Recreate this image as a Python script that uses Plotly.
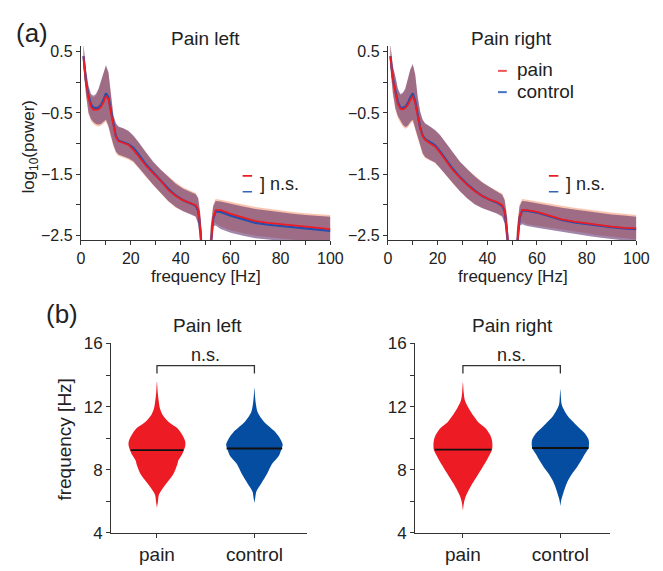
import plotly.graph_objects as go

FONT = "Liberation Sans, Arial, sans-serif"
RED = "#ED1C24"
BLUE = "#054DA0"
LINE_BLUE = "#2150B0"
AXC = "#333333"

# ---------------- data: spectra ----------------
freq = [1, 2, 3, 4, 5, 6, 7, 8, 9, 10, 11, 12, 13, 14, 15, 17, 19, 21, 23, 26, 29, 32, 35, 38, 41, 44,
        46, 47, 48, 49, 50, 51, 52, 53, 54, 56, 60, 65, 70, 75, 80, 85, 90, 95, 100]

# Pain left
L_pain_mean = [0.42, 0.0, -0.25, -0.40, -0.45, -0.45, -0.44, -0.40, -0.33, -0.22, -0.27, -0.50, -0.73, -0.89, -0.96,
               -0.99, -1.02, -1.10, -1.20, -1.36, -1.49, -1.61, -1.76, -1.86, -1.93, -1.98, -2.01, -2.08, -2.45,
               -3.2, -3.5, -3.2, -2.65, -2.22, -2.09, -2.09, -2.15, -2.21, -2.27, -2.30, -2.32, -2.34, -2.36, -2.38, -2.40]
L_ctrl_mean = [0.43, 0.02, -0.22, -0.36, -0.41, -0.42, -0.41, -0.37, -0.29, -0.18, -0.24, -0.47, -0.71, -0.88, -0.95,
               -0.98, -1.01, -1.07, -1.17, -1.34, -1.47, -1.60, -1.74, -1.85, -1.93, -1.98, -2.02, -2.10, -2.47,
               -3.2, -3.5, -3.2, -2.67, -2.24, -2.11, -2.12, -2.18, -2.24, -2.30, -2.33, -2.35, -2.37, -2.39, -2.41, -2.43]
L_pain_up = [0.62, 0.18, -0.08, -0.22, -0.25, -0.22, -0.13, 0.0, 0.14, 0.27, 0.16, -0.25, -0.55, -0.68, -0.73,
             -0.76, -0.80, -0.88, -0.98, -1.15, -1.31, -1.43, -1.54, -1.64, -1.72, -1.77, -1.81, -1.88, -2.2,
             -3.0, -3.3, -3.0, -2.35, -2.0, -1.91, -1.92, -1.96, -2.00, -2.04, -2.07, -2.10, -2.12, -2.14, -2.16, -2.17]
L_pain_lo = [0.22, -0.22, -0.52, -0.63, -0.68, -0.71, -0.72, -0.71, -0.68, -0.64, -0.74, -0.90, -1.05, -1.16, -1.20,
             -1.23, -1.26, -1.31, -1.40, -1.55, -1.69, -1.82, -1.95, -2.05, -2.11, -2.15, -2.19, -2.30, -2.7,
             -3.4, -3.7, -3.4, -2.9, -2.3, -2.30, -2.36, -2.42, -2.47, -2.51, -2.54, -2.56, -2.58, -2.60, -2.62, -2.64]
L_ctrl_up = [0.63, 0.21, -0.05, -0.19, -0.22, -0.19, -0.11, 0.01, 0.15, 0.28, 0.17, -0.24, -0.54, -0.67, -0.72,
             -0.75, -0.79, -0.87, -0.97, -1.14, -1.30, -1.43, -1.55, -1.66, -1.74, -1.79, -1.83, -1.90, -2.22,
             -3.0, -3.3, -3.0, -2.38, -2.03, -1.94, -1.95, -1.99, -2.03, -2.07, -2.10, -2.13, -2.15, -2.17, -2.19, -2.20]
L_ctrl_lo = [0.25, -0.19, -0.49, -0.60, -0.65, -0.68, -0.69, -0.68, -0.65, -0.61, -0.71, -0.87, -1.02, -1.13, -1.18,
             -1.21, -1.24, -1.29, -1.38, -1.53, -1.68, -1.81, -1.94, -2.04, -2.11, -2.16, -2.20, -2.32, -2.72,
             -3.4, -3.7, -3.4, -2.95, -2.35, -2.34, -2.40, -2.46, -2.51, -2.55, -2.58, -2.60, -2.62, -2.64, -2.66, -2.68]

# Pain right
R_pain_mean = [0.42, 0.05, -0.16, -0.35, -0.43, -0.44, -0.42, -0.37, -0.29, -0.22, -0.34, -0.58, -0.75, -0.88, -0.94,
               -1.00, -1.05, -1.15, -1.26, -1.43, -1.56, -1.68, -1.78, -1.86, -1.92, -1.96, -2.01, -2.10, -2.45,
               -3.2, -3.5, -3.2, -2.65, -2.20, -2.09, -2.09, -2.12, -2.18, -2.24, -2.28, -2.31, -2.34, -2.36, -2.38, -2.39]
R_ctrl_mean = [0.43, 0.07, -0.13, -0.32, -0.41, -0.42, -0.40, -0.34, -0.25, -0.18, -0.31, -0.56, -0.74, -0.87, -0.93,
               -0.98, -1.03, -1.13, -1.24, -1.41, -1.55, -1.67, -1.77, -1.86, -1.92, -1.97, -2.02, -2.11, -2.47,
               -3.2, -3.5, -3.2, -2.67, -2.22, -2.10, -2.10, -2.13, -2.19, -2.25, -2.29, -2.32, -2.35, -2.37, -2.39, -2.40]
R_pain_up = [0.62, 0.25, 0.08, -0.12, -0.21, -0.19, -0.12, 0.02, 0.20, 0.29, 0.12, -0.25, -0.49, -0.62, -0.68,
             -0.73, -0.79, -0.87, -0.98, -1.15, -1.30, -1.42, -1.53, -1.63, -1.71, -1.78, -1.82, -1.91, -2.2,
             -3.0, -3.3, -3.0, -2.35, -2.0, -1.91, -1.92, -1.95, -1.99, -2.02, -2.05, -2.08, -2.11, -2.13, -2.15, -2.17]
R_pain_lo = [0.22, -0.20, -0.45, -0.58, -0.66, -0.72, -0.76, -0.74, -0.68, -0.64, -0.78, -0.92, -1.03, -1.18, -1.24,
             -1.28, -1.32, -1.40, -1.50, -1.65, -1.78, -1.90, -1.99, -2.05, -2.10, -2.14, -2.18, -2.29, -2.7,
             -3.4, -3.7, -3.4, -2.9, -2.32, -2.29, -2.32, -2.35, -2.38, -2.41, -2.44, -2.47, -2.50, -2.53, -2.55, -2.57]
R_ctrl_up = [0.63, 0.27, 0.10, -0.10, -0.19, -0.17, -0.10, 0.04, 0.21, 0.30, 0.13, -0.24, -0.48, -0.61, -0.67,
             -0.72, -0.78, -0.86, -0.97, -1.14, -1.30, -1.42, -1.54, -1.64, -1.72, -1.79, -1.84, -1.93, -2.22,
             -3.0, -3.3, -3.0, -2.38, -2.03, -1.94, -1.95, -1.98, -2.02, -2.05, -2.08, -2.11, -2.14, -2.16, -2.18, -2.20]
R_ctrl_lo = [0.25, -0.17, -0.42, -0.55, -0.63, -0.69, -0.73, -0.71, -0.65, -0.61, -0.75, -0.89, -1.01, -1.16, -1.22,
             -1.27, -1.31, -1.39, -1.49, -1.64, -1.78, -1.90, -2.00, -2.06, -2.11, -2.15, -2.20, -2.31, -2.72,
             -3.4, -3.7, -3.4, -2.95, -2.35, -2.32, -2.35, -2.38, -2.42, -2.45, -2.48, -2.51, -2.54, -2.57, -2.59, -2.61]

# ---------------- data: violins (peak frequency distributions) ----------------
groups = ["pain", "control"]
group_pos = [0, 1]

VL_pain_y = [13.6, 12.9, 12.4, 11.9, 11.45, 11.03, 10.63, 10.2, 9.8, 9.5, 9.0, 8.6, 8.37, 7.75, 7.24, 6.83, 6.42, 6.0, 5.6]
VL_pain_w = [0, 0.008, 0.017, 0.03, 0.06, 0.12, 0.21, 0.26, 0.29, 0.29, 0.26, 0.22, 0.21, 0.17, 0.11, 0.06, 0.02, 0.01, 0]
VL_ctrl_y = [13.2, 12.7, 12.26, 11.65, 11.03, 10.42, 9.91, 9.6, 9.35, 8.88, 8.37, 7.75, 7.14, 6.63, 6.2, 5.9]
VL_ctrl_w = [0, 0.006, 0.013, 0.033, 0.10, 0.21, 0.27, 0.29, 0.28, 0.25, 0.18, 0.13, 0.07, 0.02, 0.008, 0]
VR_pain_y = [13.54, 12.9, 12.4, 11.88, 11.4, 11.0, 10.65, 10.2, 9.8, 9.3, 8.9, 8.55, 8.15, 7.75, 7.35, 6.95, 6.34, 5.9, 5.4]
VR_pain_w = [0, 0.008, 0.02, 0.06, 0.11, 0.16, 0.23, 0.28, 0.30, 0.30, 0.27, 0.24, 0.20, 0.16, 0.12, 0.08, 0.03, 0.01, 0]
VR_ctrl_y = [13.1, 12.6, 12.1, 11.45, 11.1, 10.73, 10.32, 9.9, 9.4, 8.98, 8.55, 8.16, 7.75, 7.34, 6.9, 6.52, 6.1, 5.7]
VR_ctrl_w = [0, 0.006, 0.015, 0.07, 0.12, 0.18, 0.25, 0.29, 0.29, 0.25, 0.21, 0.17, 0.12, 0.08, 0.05, 0.03, 0.01, 0]

medians_left = [9.25, 9.35]
medians_right = [9.28, 9.38]
median_halfwidth_left = [0.27, 0.285]
median_halfwidth_right = [0.29, 0.29]

# tick values
xt_major = [0, 20, 40, 60, 80, 100]
xt_minor = [10, 30, 50, 70, 90]
yt_major = [0.5, -0.5, -1.5, -2.5]
yt_minor = [0, -1, -2]
vt_major = [4, 8, 12, 16]
vt_minor = [6, 10, 14]

fig = go.Figure()

PAIN_BAND = "rgba(245,150,110,0.55)"
CTRL_BAND = "rgba(84,35,100,0.55)"


def add_spectrum(xa, ya, p_mean, c_mean, p_up, p_lo, c_up, c_lo):
    fig.add_trace(go.Scatter(x=freq + freq[::-1], y=p_up + p_lo[::-1], fill="toself", fillcolor=PAIN_BAND,
                             line=dict(width=0), mode="lines", xaxis=xa, yaxis=ya, showlegend=False,
                             hoverinfo="skip"))
    fig.add_trace(go.Scatter(x=freq + freq[::-1], y=c_up + c_lo[::-1], fill="toself", fillcolor=CTRL_BAND,
                             line=dict(width=0), mode="lines", xaxis=xa, yaxis=ya, showlegend=False,
                             hoverinfo="skip"))
    fig.add_trace(go.Scatter(x=freq, y=c_mean, mode="lines", line=dict(color=LINE_BLUE, width=2.2),
                             xaxis=xa, yaxis=ya, showlegend=False))
    fig.add_trace(go.Scatter(x=freq, y=p_mean, mode="lines", line=dict(color=RED, width=1.8),
                             xaxis=xa, yaxis=ya, showlegend=False))


add_spectrum("x", "y", L_pain_mean, L_ctrl_mean, L_pain_up, L_pain_lo, L_ctrl_up, L_ctrl_lo)
add_spectrum("x2", "y2", R_pain_mean, R_ctrl_mean, R_pain_up, R_pain_lo, R_ctrl_up, R_ctrl_lo)


def add_violin(xa, ya, pos, ys, ws, color, med, mhw):
    xs = [pos + w for w in ws] + [pos - w for w in ws[::-1]]
    yy = ys + ys[::-1]
    fig.add_trace(go.Scatter(x=xs, y=yy, fill="toself", fillcolor=color, mode="lines",
                             line=dict(width=0, shape="spline", smoothing=0.8),
                             xaxis=xa, yaxis=ya, showlegend=False, hoverinfo="skip"))
    fig.add_trace(go.Scatter(x=[pos - mhw, pos + mhw], y=[med, med], mode="lines",
                             line=dict(color="#111111", width=1.8), xaxis=xa, yaxis=ya, showlegend=False))


add_violin("x3", "y3", group_pos[0], VL_pain_y, VL_pain_w, RED, medians_left[0], median_halfwidth_left[0])
add_violin("x3", "y3", group_pos[1], VL_ctrl_y, VL_ctrl_w, BLUE, medians_left[1], median_halfwidth_left[1])
add_violin("x4", "y4", group_pos[0], VR_pain_y, VR_pain_w, RED, medians_right[0], median_halfwidth_right[0])
add_violin("x4", "y4", group_pos[1], VR_ctrl_y, VR_ctrl_w, BLUE, medians_right[1], median_halfwidth_right[1])

W, H = 663, 571


def px_x(p):
    return p / W


def px_y(p):
    return 1 - p / H


def axis(size, minor_vals=None, **kw):
    d = dict(showline=True, linecolor=AXC, linewidth=1.3, ticks="outside", ticklen=4, tickwidth=1.2,
             tickcolor=AXC, showgrid=False, zeroline=False, mirror=False,
             tickfont=dict(family=FONT, size=size, color="#222"))
    if minor_vals:
        d["minor"] = dict(tickvals=minor_vals, ticks="outside", ticklen=4, tickwidth=1.2, tickcolor=AXC,
                          showgrid=False)
    d.update(kw)
    return d


top_y_dom = [px_y(239), px_y(38)]
bot_y_dom = [px_y(542), px_y(346)]

fig.update_layout(
    width=W, height=H, margin=dict(l=0, r=0, t=0, b=0),
    paper_bgcolor="white", plot_bgcolor="white", showlegend=False,
    xaxis=axis(16, xt_minor, domain=[px_x(79), px_x(335)], range=[0, 100], tickvals=xt_major, anchor="y"),
    yaxis=axis(16, yt_minor, domain=top_y_dom, range=[-2.58, 0.6], tickvals=yt_major, anchor="x"),
    xaxis2=axis(16, xt_minor, domain=[px_x(394), px_x(649)], range=[0, 100], tickvals=xt_major, anchor="y2"),
    yaxis2=axis(16, yt_minor, domain=top_y_dom, range=[-2.58, 0.6], tickvals=yt_major, anchor="x2"),
    xaxis3=axis(19, None, domain=[px_x(110), px_x(311)], range=[-0.47, 1.54], tickvals=group_pos,
                ticktext=groups, anchor="y3"),
    yaxis3=axis(17, vt_minor, domain=bot_y_dom, range=[4, 16], tickvals=vt_major, anchor="x3"),
    xaxis4=axis(19, None, domain=[px_x(422), px_x(622)], range=[-0.49, 1.51], tickvals=group_pos,
                ticktext=groups, anchor="y4"),
    yaxis4=axis(17, vt_minor, domain=bot_y_dom, range=[4, 16], tickvals=vt_major, anchor="x4"),
)

ann = []


def text_px(x, y, t, size, xanchor="center", angle=0, color="#222"):
    ann.append(dict(x=px_x(x), y=px_y(y), xref="paper", yref="paper", text=t, showarrow=False,
                    xanchor=xanchor, yanchor="middle", textangle=angle,
                    font=dict(family=FONT, size=size, color=color)))


# panel labels and titles
text_px(29, 25, "(a)", 26)
text_px(60, 315, "(b)", 26)
text_px(207, 30, "Pain left", 19)
text_px(521, 30, "Pain right", 19)
text_px(209, 327, "Pain left", 19)
text_px(522, 327, "Pain right", 19)
# axis titles
text_px(207, 277, "frequency [Hz]", 17)
text_px(522, 277, "frequency [Hz]", 17)
text_px(27, 142, "log<sub>10</sub>(power)", 17, angle=-90)
text_px(62, 445, "frequency [Hz]", 19, angle=-90)
# legend
text_px(524, 63, "pain", 19, xanchor="left")
text_px(524, 85, "control", 19, xanchor="left")

# n.s. markers in spectra
for xa, ya in (("x", "y"), ("x2", "y2")):
    ann.append(dict(x=70.8, y=-1.66, xref=xa, yref=ya, text="] n.s.", showarrow=False, xanchor="left",
                    yanchor="middle", font=dict(family=FONT, size=18, color="#222")))
# n.s. over violins
for xa, ya in (("x3", "y3"), ("x4", "y4")):
    ann.append(dict(x=0.5, y=15.25, xref=xa, yref=ya, text="n.s.", showarrow=False, xanchor="center",
                    yanchor="middle", font=dict(family=FONT, size=18, color="#222")))

fig.update_layout(annotations=ann)

shapes = []
# legend line keys
shapes.append(dict(type="line", xref="paper", yref="paper", x0=px_x(507), x1=px_x(516), y0=px_y(64), y1=px_y(64),
                   line=dict(color="#EE5555", width=2)))
shapes.append(dict(type="line", xref="paper", yref="paper", x0=px_x(507), x1=px_x(516), y0=px_y(86), y1=px_y(86),
                   line=dict(color="#4473C4", width=2)))
for xa, ya in (("x", "y"), ("x2", "y2")):
    shapes.append(dict(type="line", xref=xa, yref=ya, x0=64.8, x1=68.6, y0=-1.53, y1=-1.53,
                       line=dict(color=RED, width=1.6)))
    shapes.append(dict(type="line", xref=xa, yref=ya, x0=64.8, x1=68.6, y0=-1.79, y1=-1.79,
                       line=dict(color="#3366BB", width=1.6)))
for xa, ya in (("x3", "y3"), ("x4", "y4")):
    shapes.append(dict(type="path", xref=xa, yref=ya, path="M 0,14.1 L 0,14.6 L 1,14.6 L 1,14.1",
                       line=dict(color=AXC, width=1.3)))
fig.update_layout(shapes=shapes)

fig.write_html("out.html", config={"displayModeBar": False},
               post_script="document.body.style.margin='0';")
